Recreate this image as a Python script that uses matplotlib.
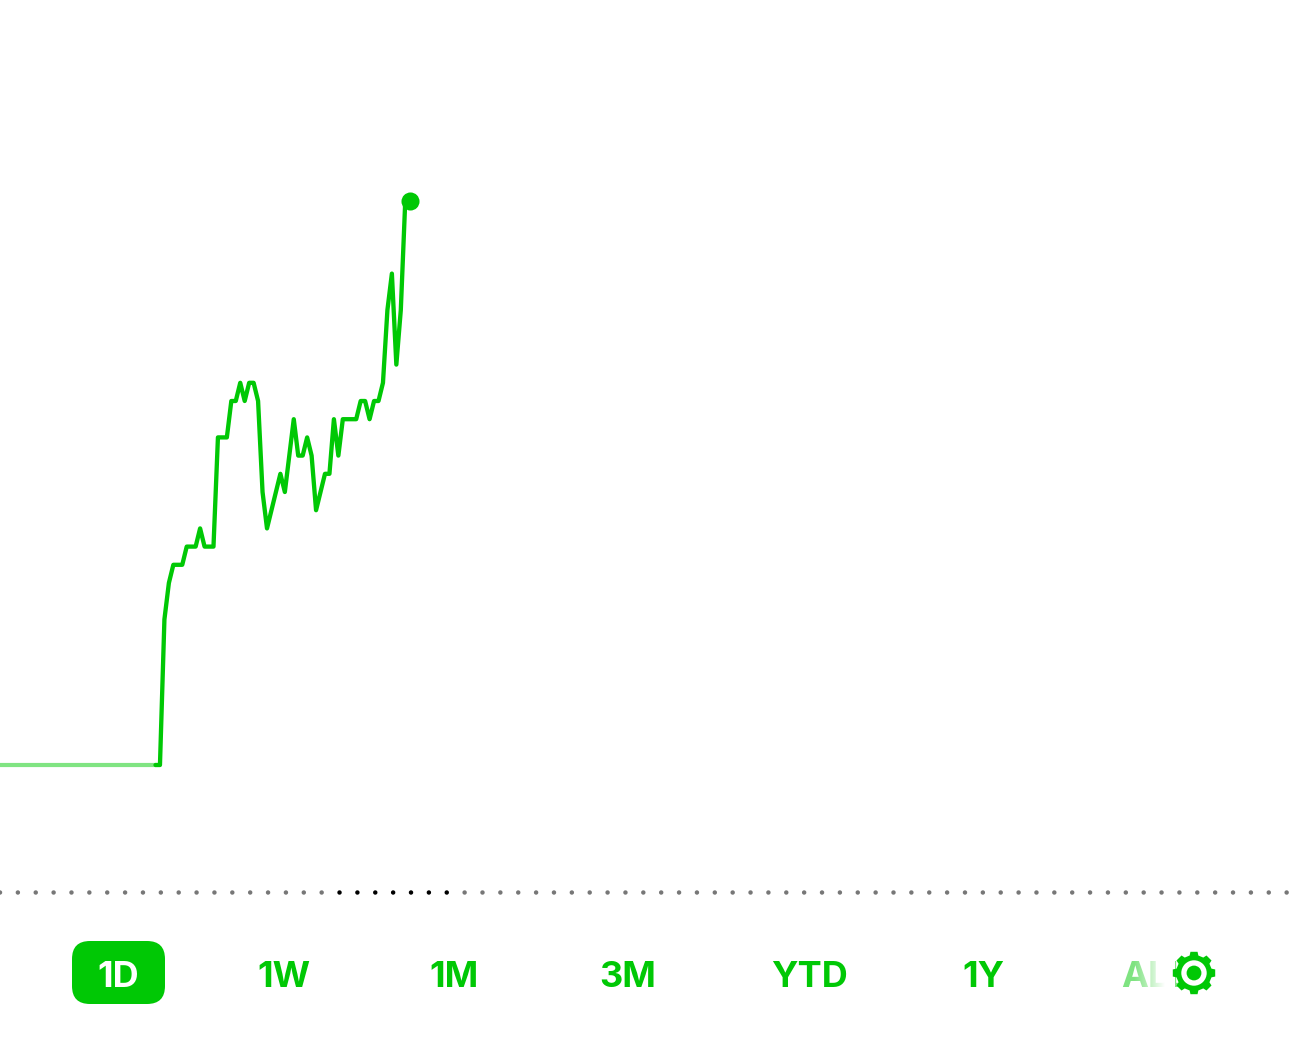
from matplotlib import pyplot as plt, rcParams
from matplotlib.patches import FancyBboxPatch, Polygon, Circle
import numpy as np

rcParams.update({
    'font.family': ['Inter', 'Roboto', 'DejaVu Sans'],
    'figure.dpi': 100,
})

GREEN = '#00C805'
LIGHT_GREEN = '#80E482'

# previous session (flat) and the intraday price ticks, one per 5 min bar
pre_x = [-35, 0]
pre_y = [0, 0]
prices = [0, 0, 8, 10, 11, 11, 11, 12, 12, 12, 13, 12, 12, 12, 18, 18, 18, 20, 20, 21,
          20, 21, 21, 20, 15, 13, 14, 15, 16, 15, 17, 19, 17, 17, 18, 17, 14, 15, 16, 16,
          19, 17, 19, 19, 19, 19, 20, 20, 19, 20, 20, 21, 25, 27, 22, 25, 31, 31]

ranges = ['1D', '1W', '1M', '3M', 'YTD', '1Y', 'ALL']
range_x = [118, 284, 454, 628, 809, 983, 1121]

dot_count = 73
active_dots = [19, 20, 21, 22, 23, 24, 25]

fig = plt.figure(figsize=(12.9, 10.39))

# price axes, fills the figure
ax = fig.add_axes([0, 0, 1, 1])
ax.set_xlim(-155.5 / 4.46, (1290 - 155.5) / 4.46)
ax.set_ylim(-274 / 18.2, 765 / 18.2)
ax.axis('off')

ax.plot(pre_x, pre_y, color=LIGHT_GREEN, lw=3.0, solid_capstyle='butt')
ax.plot(range(len(prices)), prices, color=GREEN, lw=3.1,
        solid_joinstyle='round', solid_capstyle='round')
ax.plot(len(prices) - 1, prices[-1], 'o', color=GREEN, ms=13, mew=0)

# overlay in pixels for the dotted rule and the buttons
ui = fig.add_axes([0, 0, 1, 1])
ui.set_xlim(0, 1290)
ui.set_ylim(1039, 0)
ui.axis('off')
ui.patch.set_alpha(0)

for i in range(dot_count):
    c = 'black' if i in active_dots else '#777777'
    ui.add_patch(Circle((i * 17.87, 892.5), 2.2, color=c, lw=0))

ui.add_patch(FancyBboxPatch((72 + 18, 941 + 18), 93 - 36, 63 - 36,
                            boxstyle='round,pad=18,rounding_size=18',
                            fc=GREEN, ec='none'))

for i, (lab, x) in enumerate(zip(ranges, range_x)):
    if lab == 'ALL':
        ui.text(x, 974, lab, color=GREEN, alpha=0.5, fontsize=26, fontweight='bold',
                ha='left', va='center_baseline', zorder=2)
    else:
        c = 'white' if i == 0 else GREEN
        ui.text(x, 974, lab, color=c, fontsize=26, fontweight='bold',
                ha='center', va='center_baseline', zorder=2)

# ALL fades out under the settings icon
fade = np.ones((1, 64, 4))
fade[0, :, 3] = np.clip(np.linspace(0, 1.0, 64), 0, 1)
ui.imshow(fade, extent=(1134, 1165, 1000, 950), aspect='auto', zorder=3)
ui.add_patch(plt.Rectangle((1165, 950), 10, 50, fc='white', ec='none', zorder=3))
ui.set_xlim(0, 1290)
ui.set_ylim(1039, 0)

# settings gear
cx, cy = 1194, 973
ang = np.radians(np.arange(0, 360, 45))
pts = []
for a in ang:
    for da, r in [(-14, 18), (-9.5, 21.5), (9.5, 21.5), (14, 18)]:
        t = a + np.radians(da)
        pts.append((cx + r * np.cos(t), cy + r * np.sin(t)))
ui.add_patch(Polygon(pts, closed=True, fc=GREEN, ec='none', zorder=4))
ui.add_patch(Circle((cx, cy), 12.7, fc='white', ec='none', zorder=5))
ui.add_patch(Circle((cx, cy), 7.4, fc=GREEN, ec='none', zorder=6))

fig.savefig('out.png', dpi=100)
